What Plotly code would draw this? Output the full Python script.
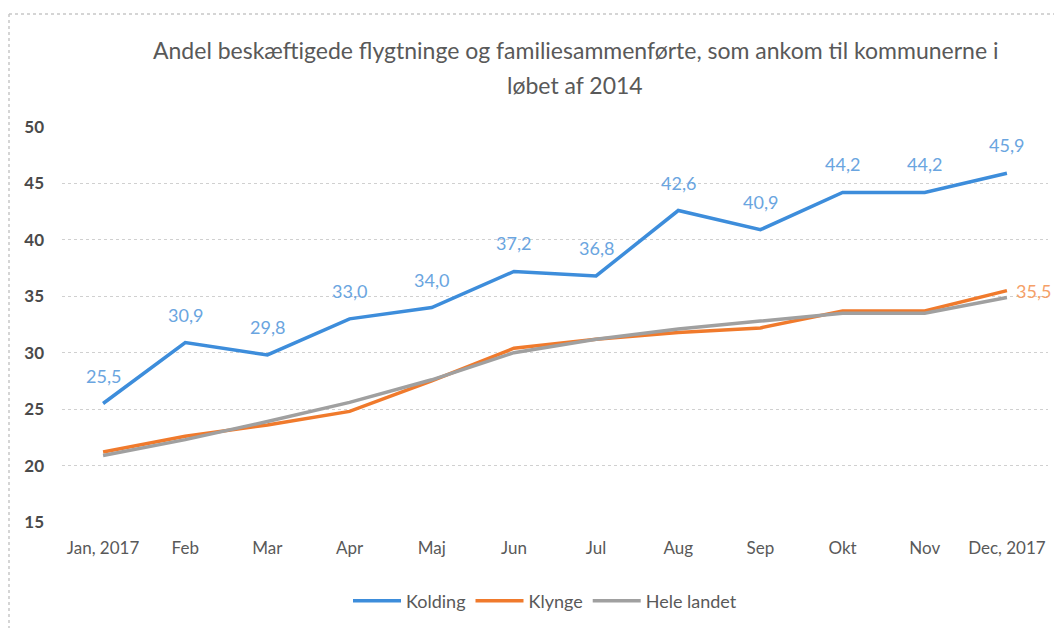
import plotly.graph_objects as go

months = ["Jan, 2017", "Feb", "Mar", "Apr", "Maj", "Jun", "Jul", "Aug", "Sep", "Okt", "Nov", "Dec, 2017"]
kolding = [25.5, 30.9, 29.8, 33.0, 34.0, 37.2, 36.8, 42.6, 40.9, 44.2, 44.2, 45.9]
klynge = [21.2, 22.6, 23.6, 24.8, 27.5, 30.4, 31.2, 31.8, 32.2, 33.7, 33.7, 35.5]
hele_landet = [20.9, 22.3, 23.9, 25.6, 27.6, 30.0, 31.2, 32.1, 32.8, 33.5, 33.5, 34.9]
title_lines = ["Andel beskæftigede flygtninge og familiesammenførte, som ankom til kommunerne i", "løbet af 2014"]

FONT = "Lato, Liberation Sans, Arial, sans-serif"

# page offset of the figure (default body margin of the html page)
OFF = 8
PW, PH = 986, 395          # plot area size
PL, PB = 62, 522           # plot area left / bottom in page pixels


def px(x):
    return (x - PL) / PW


def py(y):
    return (PB - y) / PH


def fmt(v):
    return f"{v:.1f}".replace(".", ",")


fig = go.Figure()
fig.add_trace(go.Scatter(x=months, y=kolding, name="Kolding", mode="lines",
                         line=dict(color="#3d8ddb", width=3.5)))
fig.add_trace(go.Scatter(x=months, y=klynge, name="Klynge", mode="lines",
                         line=dict(color="#f07a2c", width=3.5)))
fig.add_trace(go.Scatter(x=months, y=hele_landet, name="Hele landet", mode="lines",
                         line=dict(color="#a0a0a0", width=3.5)))

for m, v in zip(months, kolding):
    fig.add_annotation(x=m, y=v, text=fmt(v), showarrow=False, yshift=28,
                       font=dict(size=18, color="#6aa5e0", family=FONT))
fig.add_annotation(x=months[-1], y=klynge[-1], text=fmt(klynge[-1]), showarrow=False, xshift=7,
                   xanchor="left", font=dict(size=18, color="#f5a067", family=FONT))

fig.add_annotation(text=title_lines[0], xref="paper", yref="paper", x=px(575), y=py(50),
                   showarrow=False, font=dict(size=23, color="#595959", family=FONT),
                   xanchor="center", yanchor="middle")
fig.add_annotation(text=title_lines[1], xref="paper", yref="paper", x=px(575), y=py(85),
                   showarrow=False, font=dict(size=23, color="#595959", family=FONT),
                   xanchor="center", yanchor="middle")

# chart border (dotted)
fig.add_shape(type="line", xref="paper", yref="paper", x0=px(9), x1=px(1062), y0=py(14), y1=py(14),
              line=dict(color="#c8c8c8", width=1.5, dash="dot"))
fig.add_shape(type="line", xref="paper", yref="paper", x0=px(9), x1=px(9), y0=py(14), y1=py(628),
              line=dict(color="#c8c8c8", width=1.5, dash="dot"))

fig.update_layout(
    width=1062 - OFF, height=628 - OFF,
    margin=dict(l=PL - OFF, r=1062 - OFF - (PL - OFF) - PW, t=PB - PH - OFF, b=628 - OFF - (PB - OFF),
                autoexpand=False),
    paper_bgcolor="white", plot_bgcolor="white",
    font=dict(family=FONT, color="#595959"),
    showlegend=True,
    legend=dict(orientation="h", x=px(545), xanchor="center", y=py(601), yanchor="middle",
                font=dict(size=18, color="#595959"), itemwidth=48),
    xaxis=dict(type="category", range=[-0.5, 11.5], showgrid=False, showline=False, zeroline=False,
               tickfont=dict(size=17, color="#595959"), ticks="", ticklabelstandoff=14),
    yaxis=dict(range=[15, 50], dtick=5, showgrid=True, gridcolor="#d0d0d0", griddash="dot", gridwidth=1,
               zeroline=False, showline=False, tickfont=dict(size=17, color="#4a4a4a", weight="bold"),
               ticks="", ticklabelstandoff=17),
)

fig.write_html("out.html")
